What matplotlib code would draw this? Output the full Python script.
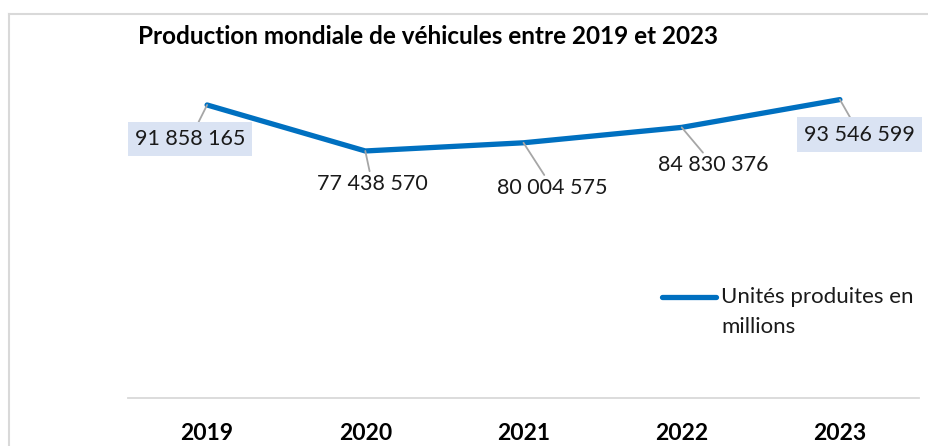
import matplotlib
matplotlib.use('Agg')
import matplotlib.pyplot as plt
from matplotlib.lines import Line2D

plt.rcParams['font.family'] = ['Lato', 'DejaVu Sans']

years = ["2019", "2020", "2021", "2022", "2023"]
units = [91858165, 77438570, 80004575, 84830376, 93546599]
value_labels = ["91 858 165", "77 438 570", "80 004 575", "84 830 376", "93 546 599"]

# label offsets in pixels from the point, and whether the label has a box
offsets = [(-17, -34), (7, -33), (29, -45), (32, -38), (20, -35)]
boxed = [True, False, False, False, True]

blue = '#0070C0'


def main():
    fig = plt.figure(figsize=(9.29, 4.46), dpi=100)
    ax = fig.add_axes([128 / 929, 1 - 398 / 446, 791 / 929, 319 / 446])

    x = list(range(len(years)))
    ax.plot(x, units, color=blue, linewidth=3.8, solid_capstyle='round',
            solid_joinstyle='round', zorder=3)

    for i, (val, lab) in enumerate(zip(units, value_labels)):
        bbox = None
        if boxed[i]:
            bbox = dict(boxstyle='square,pad=0.33', fc='#DAE3F3', ec='none')
        ax.annotate(lab, xy=(i, val), xytext=offsets[i], textcoords='offset pixels',
                    ha='center', va='center', fontsize=15.5, color='#1a1a1a',
                    bbox=bbox,
                    arrowprops=dict(arrowstyle='-', color='#A6A6A6', lw=1.3,
                                    shrinkA=0, shrinkB=0), zorder=4)

    ax.set_xlim(-0.5, len(years) - 0.5)
    ax.set_ylim(0, 100e6)
    ax.set_xticks(x)
    ax.set_xticklabels(years, fontsize=16.5, fontweight='bold')
    ax.tick_params(axis='x', length=0, pad=18)
    ax.set_yticks([])
    for s in ['top', 'right', 'left']:
        ax.spines[s].set_visible(False)
    ax.spines['bottom'].set_color('#D9D9D9')
    ax.spines['bottom'].set_linewidth(1.3)

    fig.text(138 / 929, 1 - 36 / 446, "Production mondiale de véhicules entre 2019 et 2023",
             fontsize=17.5, fontweight='bold', ha='left', va='center')

    # legend
    fig.add_artist(Line2D([662 / 929, 716 / 929], [1 - 297 / 446, 1 - 297 / 446],
                          color=blue, linewidth=3.8, solid_capstyle='round'))
    fig.text(721 / 929, 1 - 297 / 446, "Unités produites en", fontsize=16,
             ha='left', va='center', color='#1a1a1a')
    fig.text(721 / 929, 1 - 327 / 446, "millions", fontsize=16,
             ha='left', va='center', color='#1a1a1a')

    # chart border (left and top only visible)
    fig.add_artist(Line2D([8.5 / 929, 8.5 / 929], [0, 1 - 14 / 446], color='#D9D9D9', linewidth=1.5))
    fig.add_artist(Line2D([8.5 / 929, 1], [1 - 14 / 446, 1 - 14 / 446], color='#D9D9D9', linewidth=1.5))

    fig.savefig("out.png", dpi=100)


if __name__ == "__main__": main()
